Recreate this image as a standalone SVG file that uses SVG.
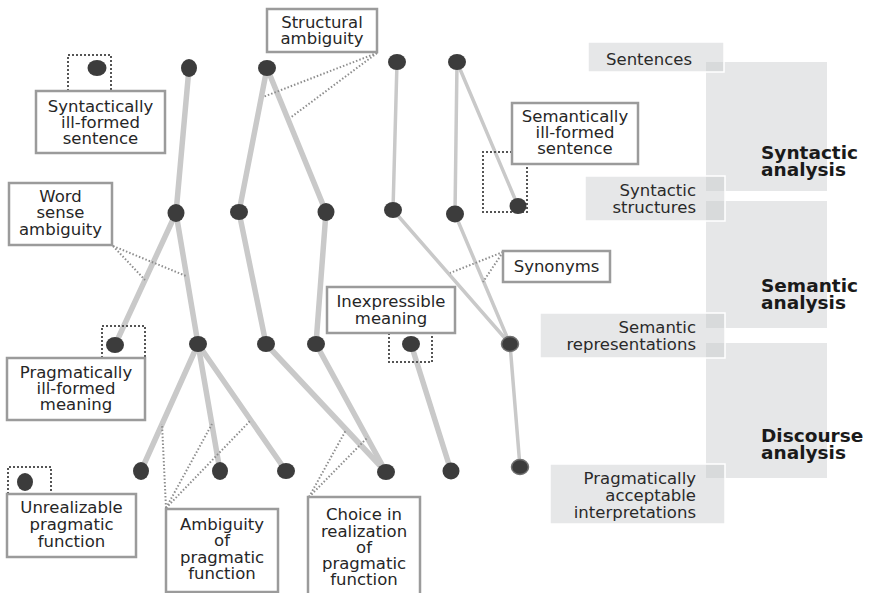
<svg xmlns="http://www.w3.org/2000/svg" width="871" height="593" viewBox="0 0 871 593">
  <style>
    .lbl { fill: #fff; stroke: #9b9b9b; stroke-width: 2.5; }
    .txt { font-family: "DejaVu Sans", Verdana, sans-serif; font-size: 16.5px; fill: #262626; text-anchor: middle; }
    .rtxt { font-family: "DejaVu Sans", Verdana, sans-serif; font-size: 16.5px; fill: #2a2a2a; text-anchor: end; }
    .btxt { font-family: "DejaVu Sans", Verdana, sans-serif; font-size: 18.5px; font-weight: bold; fill: #1a1a1a; }
    .panel { fill: #e6e7e8; }
    .tag { fill: #c8c9cb; fill-opacity: 0.45; stroke: #fff; stroke-width: 1.5; }
    .edge { stroke: #c9c9c9; stroke-width: 5.5; stroke-linecap: round; fill: none; }
    .edge-thin { stroke: #c9c9c9; stroke-width: 3.5; stroke-linecap: round; fill: none; }
    .dots { stroke: #8e8e8e; stroke-width: 2; stroke-dasharray: 1.5 2; fill: none; }
    .frame { stroke: #555; stroke-width: 2; stroke-dasharray: 2 2; fill: none; }
    .node { fill: #3c3c3c; }
    .node-o { fill: #3c3c3c; stroke: #707070; stroke-width: 1.5; }
  </style>

  <!-- analysis stages on the right -->
  <g id="stages">
    <rect class="panel" x="706" y="62" width="121" height="129"/>
    <rect class="panel" x="706" y="201" width="121" height="127"/>
    <rect class="panel" x="706" y="343" width="121" height="135"/>
    <text class="btxt" x="761" y="159">Syntactic</text>
    <text class="btxt" x="761" y="176">analysis</text>
    <text class="btxt" x="761" y="292">Semantic</text>
    <text class="btxt" x="761" y="309">analysis</text>
    <text class="btxt" x="761" y="442">Discourse</text>
    <text class="btxt" x="761" y="459">analysis</text>
  </g>
  <g id="tag-sentences">
    <rect class="tag" x="588" y="42" width="136" height="30"/>
    <text class="rtxt" x="692" y="65">Sentences</text>
  </g>
  <g id="tag-syntactic-structures">
    <rect class="tag" x="585" y="176" width="140" height="45"/>
    <text class="rtxt" x="696" y="196">Syntactic</text>
    <text class="rtxt" x="696" y="213">structures</text>
  </g>
  <g id="tag-semantic-representations">
    <rect class="tag" x="540" y="313" width="185" height="45"/>
    <text class="rtxt" x="696" y="333">Semantic</text>
    <text class="rtxt" x="696" y="350">representations</text>
  </g>
  <g id="tag-pragmatic-interpretations">
    <rect class="tag" x="550" y="464" width="175" height="60"/>
    <text class="rtxt" x="696" y="484">Pragmatically</text>
    <text class="rtxt" x="696" y="501">acceptable</text>
    <text class="rtxt" x="696" y="518">interpretations</text>
  </g>

  <!-- connectors -->
  <g id="connectors">
    <line class="edge" x1="189" y1="68" x2="176" y2="213"/>
    <line class="edge" x1="176" y1="213" x2="115" y2="345"/>
    <line class="edge" x1="176" y1="213" x2="198" y2="344"/>
    <line class="edge" x1="198" y1="344" x2="141" y2="471"/>
    <line class="edge" x1="198" y1="344" x2="220" y2="471"/>
    <line class="edge" x1="198" y1="344" x2="286" y2="471"/>
    <line class="edge" x1="267" y1="68" x2="239" y2="212"/>
    <line class="edge" x1="267" y1="68" x2="326" y2="212"/>
    <line class="edge" x1="239" y1="212" x2="266" y2="344"/>
    <line class="edge" x1="266" y1="344" x2="386" y2="472"/>
    <line class="edge" x1="326" y1="212" x2="316" y2="344"/>
    <line class="edge" x1="316" y1="344" x2="386" y2="472"/>
    <line class="edge" x1="411" y1="344" x2="451" y2="471"/>
    <line class="edge-thin" x1="397" y1="62" x2="393" y2="210"/>
    <line class="edge-thin" x1="393" y1="210" x2="510" y2="344"/>
    <line class="edge-thin" x1="457" y1="62" x2="455" y2="214"/>
    <line class="edge-thin" x1="457" y1="62" x2="518" y2="206"/>
    <line class="edge-thin" x1="455" y1="214" x2="510" y2="344"/>
    <line class="edge-thin" x1="510" y1="344" x2="520" y2="467"/>

    <!-- dotted pointers from labels to the branches they describe -->
    <line class="dots" x1="377" y1="53" x2="263" y2="97"/>
    <line class="dots" x1="377" y1="53" x2="290" y2="118"/>
    <line class="dots" x1="113" y1="246" x2="186" y2="276"/>
    <line class="dots" x1="113" y1="246" x2="145" y2="280"/>
    <line class="dots" x1="503" y1="252" x2="450" y2="273"/>
    <line class="dots" x1="503" y1="252" x2="483" y2="282"/>
    <line class="dots" x1="166" y1="508" x2="162" y2="424"/>
    <line class="dots" x1="166" y1="508" x2="212" y2="424"/>
    <line class="dots" x1="166" y1="508" x2="250" y2="421"/>
    <line class="dots" x1="309" y1="497" x2="346" y2="430"/>
    <line class="dots" x1="309" y1="497" x2="368" y2="437"/>

    <!-- dotted frames around dead-end nodes -->
    <path class="frame" d="M68,91 V55 H111 V91"/>
    <path class="frame" d="M102,358 V326 H145 V358"/>
    <path class="frame" d="M389,333 V362 H432 V333"/>
    <path class="frame" d="M8,494 V467 H51 V494"/>
    <path class="frame" d="M512,152 H483 V212 H527 V164"/>
  </g>

  <!-- nodes -->
  <g id="nodes">
    <ellipse id="n1" class="node" cx="97" cy="68" rx="9.5" ry="8"/>
    <ellipse id="n2" class="node" cx="189" cy="68" rx="8" ry="9"/>
    <ellipse id="n3" class="node" cx="267" cy="68" rx="9" ry="8"/>
    <ellipse id="n4" class="node" cx="397" cy="62" rx="9" ry="8"/>
    <ellipse id="n5" class="node" cx="457" cy="62" rx="9" ry="8"/>
    <ellipse id="n6" class="node" cx="176" cy="213" rx="8.5" ry="9"/>
    <ellipse id="n7" class="node" cx="239" cy="212" rx="9" ry="8"/>
    <ellipse id="n8" class="node" cx="326" cy="212" rx="8.5" ry="9"/>
    <ellipse id="n9" class="node" cx="393" cy="210" rx="9" ry="8"/>
    <ellipse id="n10" class="node" cx="455" cy="214" rx="9" ry="8.5"/>
    <ellipse id="n11" class="node" cx="518" cy="206" rx="8.5" ry="8"/>
    <ellipse id="n12" class="node" cx="115" cy="345" rx="9" ry="8"/>
    <ellipse id="n13" class="node" cx="198" cy="344" rx="9" ry="8"/>
    <ellipse id="n14" class="node" cx="266" cy="344" rx="9" ry="8"/>
    <ellipse id="n15" class="node" cx="316" cy="344" rx="9" ry="8"/>
    <ellipse id="n16" class="node" cx="411" cy="344" rx="9" ry="8"/>
    <ellipse id="n17" class="node-o" cx="510" cy="344" rx="8.5" ry="7.5"/>
    <ellipse id="n18" class="node" cx="25" cy="482" rx="8" ry="9"/>
    <ellipse id="n19" class="node" cx="141" cy="471" rx="8" ry="9"/>
    <ellipse id="n20" class="node" cx="220" cy="471" rx="8" ry="9"/>
    <ellipse id="n21" class="node" cx="286" cy="471" rx="9" ry="8"/>
    <ellipse id="n22" class="node" cx="386" cy="472" rx="9" ry="8"/>
    <ellipse id="n23" class="node" cx="451" cy="471" rx="8.5" ry="8.5"/>
    <ellipse id="n24" class="node-o" cx="520" cy="467" rx="8.5" ry="7.5"/>
  </g>

  <!-- labels -->
  <g id="lbl-structural">
    <rect class="lbl" x="267" y="9" width="110" height="43"/>
    <text class="txt" x="322" y="28">Structural</text>
    <text class="txt" x="322" y="44">ambiguity</text>
  </g>
  <g id="lbl-syntactically">
    <rect class="lbl" x="36" y="91" width="129" height="62"/>
    <text class="txt" x="100.5" y="112">Syntactically</text>
    <text class="txt" x="100.5" y="128">ill-formed</text>
    <text class="txt" x="100.5" y="144">sentence</text>
  </g>
  <g id="lbl-semantically">
    <rect class="lbl" x="512" y="103" width="126" height="61"/>
    <text class="txt" x="575" y="122">Semantically</text>
    <text class="txt" x="575" y="138">ill-formed</text>
    <text class="txt" x="575" y="154">sentence</text>
  </g>
  <g id="lbl-word-sense">
    <rect class="lbl" x="9" y="183" width="103" height="62"/>
    <text class="txt" x="60.5" y="202">Word</text>
    <text class="txt" x="60.5" y="218">sense</text>
    <text class="txt" x="60.5" y="235">ambiguity</text>
  </g>
  <g id="lbl-synonyms">
    <rect class="lbl" x="503" y="251" width="107" height="31"/>
    <text class="txt" x="556.5" y="272">Synonyms</text>
  </g>
  <g id="lbl-inexpressible">
    <rect class="lbl" x="327" y="287" width="128" height="46"/>
    <text class="txt" x="391" y="307">Inexpressible</text>
    <text class="txt" x="391" y="324">meaning</text>
  </g>
  <g id="lbl-pragmatically">
    <rect class="lbl" x="7" y="358" width="138" height="62"/>
    <text class="txt" x="76" y="378">Pragmatically</text>
    <text class="txt" x="76" y="394">ill-formed</text>
    <text class="txt" x="76" y="410">meaning</text>
  </g>
  <g id="lbl-unrealizable">
    <rect class="lbl" x="7" y="494" width="129" height="63"/>
    <text class="txt" x="71.5" y="513">Unrealizable</text>
    <text class="txt" x="71.5" y="530">pragmatic</text>
    <text class="txt" x="71.5" y="547">function</text>
  </g>
  <g id="lbl-ambiguity-pragmatic">
    <rect class="lbl" x="166" y="509" width="112" height="83"/>
    <text class="txt" x="222" y="530">Ambiguity</text>
    <text class="txt" x="222" y="546">of</text>
    <text class="txt" x="222" y="563">pragmatic</text>
    <text class="txt" x="222" y="579">function</text>
  </g>
  <g id="lbl-choice">
    <rect class="lbl" x="308" y="497" width="112" height="100"/>
    <text class="txt" x="364" y="520">Choice in</text>
    <text class="txt" x="364" y="537">realization</text>
    <text class="txt" x="364" y="553">of</text>
    <text class="txt" x="364" y="569">pragmatic</text>
    <text class="txt" x="364" y="585">function</text>
  </g>
</svg>
